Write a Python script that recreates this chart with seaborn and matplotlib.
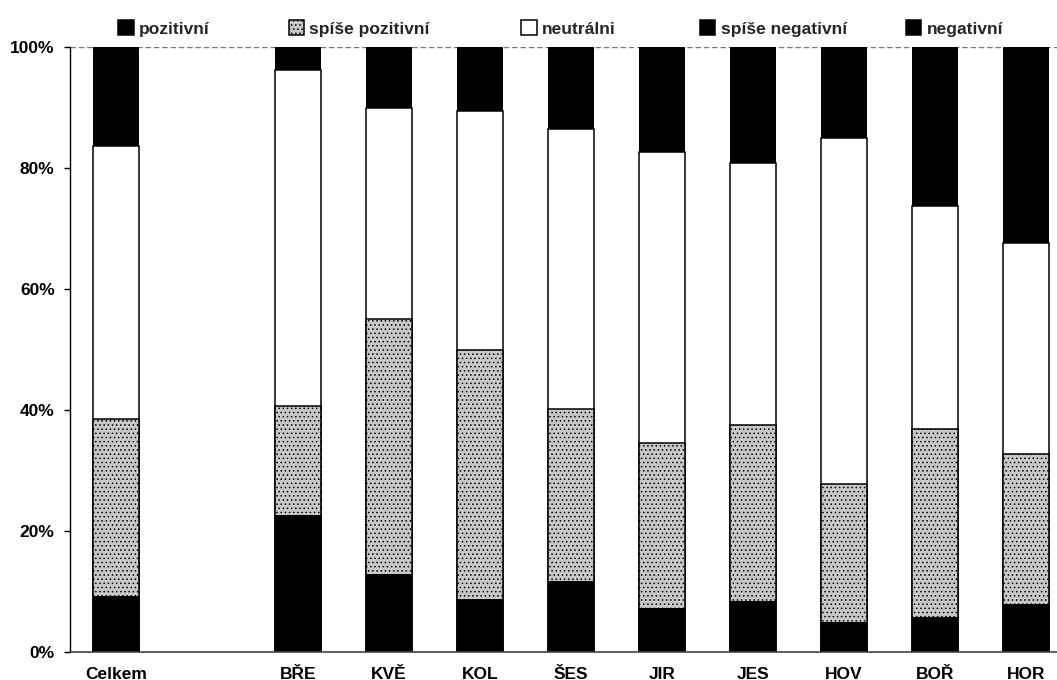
import matplotlib
matplotlib.use("Agg")
import matplotlib.pyplot as plt
from matplotlib.patches import Patch
from matplotlib.ticker import PercentFormatter
import numpy as np
import pandas as pd
import seaborn as sns

# Categories (empty slot after "Celkem" kept as in the source chart)
categories = ["Celkem", " ", "BŘE", "KVĚ", "KOL", "ŠES", "JIR", "JES", "HOV", "BOŘ", "HOR"]
bar_labels = ["Celkem", "BŘE", "KVĚ", "KOL", "ŠES", "JIR", "JES", "HOV", "BOŘ", "HOR"]

# Shares in %
pozitivni = [9.3, 22.6, 12.9, 8.7, 11.7, 7.2, 8.5, 5.0, 5.7, 7.9]
spise_pozitivni = [29.2, 18.1, 42.1, 41.2, 28.5, 27.3, 29.0, 22.8, 31.2, 24.8]
neutralni = [45.1, 55.5, 34.9, 39.6, 46.2, 48.2, 43.4, 57.2, 36.8, 34.9]
spise_negativni = [11.0, 3.0, 7.0, 7.5, 9.6, 12.0, 13.0, 10.5, 18.0, 21.0]
negativni = [5.4, 0.8, 3.1, 3.0, 4.0, 5.3, 6.1, 4.5, 8.3, 11.4]

series_names = ["pozitivní", "spíše pozitivní", "neutrálni", "spíše negativní", "negativní"]
series_values = [pozitivni, spise_pozitivni, neutralni, spise_negativni, negativni]
face_colors = ["black", "#c8c8c8", "white", "black", "black"]
hatches = [None, "....", None, None, None]
edge_widths = [0, 1.1, 1.1, 0, 0]

sns.set_theme(style="white")
plt.rcParams["font.family"] = ["Liberation Sans", "DejaVu Sans"]
plt.rcParams["font.weight"] = "bold"
plt.rcParams["hatch.linewidth"] = 0.6

fig = plt.figure(figsize=(10.57, 6.80), dpi=100)
ax = fig.add_axes([0.0662, 0.0412, 0.9338, 0.8897])

# cumulative tops, drawn back to front
cum = np.cumsum(np.array(series_values), axis=0)
for i in reversed(range(len(series_names))):
    df = pd.DataFrame({"kat": bar_labels, "val": cum[i]})
    sns.barplot(
        data=df, x="kat", y="val", order=categories, ax=ax,
        color=face_colors[i], saturation=1, width=0.505,
        edgecolor="black", linewidth=edge_widths[i], hatch=hatches[i],
    )

ax.set_ylim(0, 100)
ax.set_xlim(-0.505, 10.34)
ax.yaxis.set_major_formatter(PercentFormatter(decimals=0))
ax.set_yticks([0, 20, 40, 60, 80, 100])
ax.axhline(100, color="#777777", linewidth=1, linestyle=(0, (4, 2)), zorder=0)
ax.set_xlabel("")
ax.set_ylabel("")

for s in ["top", "right"]:
    ax.spines[s].set_visible(False)
ax.spines["left"].set_color("black")
ax.spines["left"].set_linewidth(1.0)
ax.spines["bottom"].set_color("#444444")
ax.spines["bottom"].set_linewidth(1.2)

ax.tick_params(axis="y", left=True, length=4, width=1, color="black", pad=7,
               labelsize=12.5, labelcolor="black")
ax.tick_params(axis="x", bottom=False, length=0, pad=10.5, labelsize=12.5, labelcolor="black")
for t in ax.get_xticklabels() + ax.get_yticklabels():
    t.set_fontweight("bold")

# legend entries placed one by one along the top
legend_x = [0.112, 0.273, 0.493, 0.662, 0.857]
for name, fc, h, lx in zip(series_names, face_colors, hatches, legend_x):
    handle = Patch(facecolor=fc, edgecolor="black", hatch=h, linewidth=1.1)
    leg = fig.legend(
        handles=[handle], labels=[name], loc="center left",
        bbox_to_anchor=(lx, 0.958), frameon=False, fontsize=12.5,
        handlelength=0.9, handleheight=0.9, handletextpad=0.3,
        borderpad=0, borderaxespad=0,
    )
    for t in leg.get_texts():
        t.set_fontweight("bold")

fig.savefig("out.png", dpi=100, facecolor="white")
